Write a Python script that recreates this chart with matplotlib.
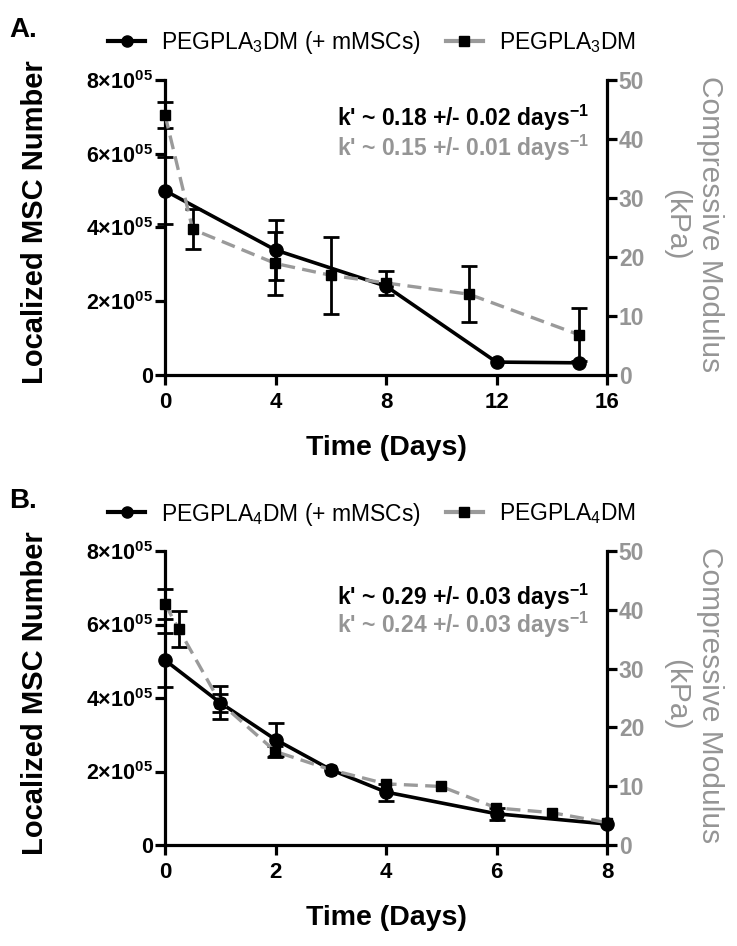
import numpy as np
import matplotlib
matplotlib.use('Agg')
import matplotlib.pyplot as plt
from matplotlib.ticker import FuncFormatter
from matplotlib.lines import Line2D

plt.rcParams['font.family'] = ['Liberation Sans', 'DejaVu Sans']
plt.rcParams['mathtext.fontset'] = 'custom'
plt.rcParams['mathtext.rm'] = 'Liberation Sans'
plt.rcParams['mathtext.it'] = 'Liberation Sans:italic'
plt.rcParams['mathtext.bf'] = 'Liberation Sans:bold'

GRAY = '#9a9a9a'
GRAY_TXT = '#959595'

# panel A - PEGPLA3DM
days_a_cells = [0, 4, 8, 12, 15]
cells_a = [5.0e5, 3.39e5, 2.41e5, 0.35e5, 0.33e5]
cells_a_err = [0.9e5, 0.82e5, np.nan, np.nan, np.nan]
days_a_gel = [0, 1, 4, 6, 8, 11, 15]
modulus_a = [44.1, 24.7, 18.9, 16.9, 15.6, 13.7, 6.8]
modulus_a_err = [2.2, 3.4, 5.3, 6.5, 2.0, 4.8, 4.5]

# panel B - PEGPLA4DM
days_b_cells = [0, 1, 2, 3, 4, 6, 8]
cells_b = [5.03e5, 3.87e5, 2.87e5, 2.05e5, 1.44e5, 0.85e5, 0.57e5]
cells_b_err = [0.73e5, 0.45e5, 0.44e5, np.nan, 0.23e5, 0.16e5, np.nan]
days_b_gel = [0, 0.25, 1, 2, 3, 4, 5, 6, 7, 8]
modulus_b = [41.0, 36.7, 24.2, 15.9, 12.8, 10.4, 9.95, 6.3, 5.5, 3.8]
modulus_b_err = [2.5, 3.1, 1.5, 1.0, np.nan, np.nan, np.nan, np.nan, np.nan, np.nan]

cell_ticks = [0, 2e5, 4e5, 6e5, 8e5]
modulus_ticks = [0, 10, 20, 30, 40, 50]

W, H = 737, 946


def sci_fmt(v, pos):
    if v == 0:
        return '0'
    return '%d×10$^{\\mathbf{05}}$' % round(v / 1e5)


def draw_panel(rect, days_c, cells, cells_err, days_g, modulus, modulus_err,
               xmax, xstep, k_black, k_gray, k_y):
    ax = fig.add_axes(rect)
    ax2 = ax.twinx()

    ax.errorbar(days_c, cells, yerr=cells_err, color='black', lw=2.6,
                marker='o', ms=9.5, elinewidth=2, capsize=5.8, capthick=2,
                clip_on=False, zorder=3)
    ax2.errorbar(days_g, modulus, yerr=modulus_err, color=GRAY, lw=2.4,
                 ls=(0, (4.2, 2.2)), marker='s', ms=7.8, mfc='black', mec='black',
                 ecolor='black', elinewidth=2, capsize=5.8, capthick=2,
                 clip_on=False, zorder=3)

    ax.set_xlim(0, xmax)
    ax.set_xticks(np.arange(0, xmax + 0.1, xstep))
    ax.set_ylim(0, 8e5)
    ax.set_yticks(cell_ticks)
    ax.yaxis.set_major_formatter(FuncFormatter(sci_fmt))
    ax2.set_ylim(0, 50)
    ax2.set_yticks(modulus_ticks)

    for s in ['top', 'right']:
        ax.spines[s].set_visible(False)
    for s in ['top', 'left', 'bottom']:
        ax2.spines[s].set_visible(False)
    for a in [ax, ax2]:
        for s in a.spines.values():
            s.set_linewidth(2.3)
    ax.tick_params(axis='both', width=2.3, length=7, labelsize=15.5)
    ax.tick_params(axis='x', labelsize=16, pad=5)
    ax.tick_params(axis='y', pad=1.5)
    ax2.tick_params(axis='y', width=2.3, length=7, labelsize=16.5, pad=1.5,
                    labelcolor=GRAY_TXT, colors='black')
    for lab in ax2.get_yticklabels():
        lab.set_color(GRAY_TXT)
    for lab in ax.get_xticklabels() + ax.get_yticklabels() + ax2.get_yticklabels():
        lab.set_fontweight('bold')

    ax.text(0.96, k_y[0], "k' ~ %s days$^{\\mathbf{-1}}$" % k_black, transform=ax.transAxes,
            ha='right', va='center', fontsize=16.5, fontweight='bold', color='black')
    ax.text(0.96, k_y[1], "k' ~ %s days$^{\\mathbf{-1}}$" % k_gray, transform=ax.transAxes,
            ha='right', va='center', fontsize=16.5, fontweight='bold', color=GRAY_TXT)
    return ax, ax2


fig = plt.figure(figsize=(W / 100, H / 100), dpi=100)

panels = [
    dict(top=80, bottom=375, letter='A.', n='3',
         data=(days_a_cells, cells_a, cells_a_err, days_a_gel, modulus_a, modulus_a_err),
         xmax=16, xstep=4, kb='0.18 +/- 0.02', kg='0.15 +/- 0.01', ky=(0.873, 0.769)),
    dict(top=551, bottom=845, letter='B.', n='4',
         data=(days_b_cells, cells_b, cells_b_err, days_b_gel, modulus_b, modulus_b_err),
         xmax=8, xstep=2, kb='0.29 +/- 0.03', kg='0.24 +/- 0.03', ky=(0.844, 0.748)),
]

for p in panels:
    left, right = 165, 607
    rect = [left / W, 1 - p['bottom'] / H, (right - left) / W, (p['bottom'] - p['top']) / H]
    ax, ax2 = draw_panel(rect, *p['data'], p['xmax'], p['xstep'], p['kb'], p['kg'], p['ky'])

    mid = (p['top'] + p['bottom']) / 2
    fig.text(9 / W, 1 - (p['top'] - 50) / H, p['letter'], fontsize=20, fontweight='bold',
             ha='left', va='center')
    fig.text(35 / W, 1 - (mid - 5) / H, 'Localized MSC Number', rotation=90,
             fontsize=21, fontweight='bold', ha='center', va='center')
    fig.text(693 / W, 1 - (mid - 3) / H, 'Compressive Modulus\n(kPa)', rotation=270,
             fontsize=21.5, color=GRAY_TXT, ha='center', va='center', linespacing=1.25,
             multialignment='center')
    fig.text(386 / W, 1 - (p['bottom'] + 73) / H, 'Time (Days)', fontsize=20.5,
             fontweight='bold', ha='center', va='center')

    handles = [
        Line2D([], [], color='black', lw=3, marker='o', ms=8),
        Line2D([], [], color=GRAY, lw=3, marker='s', ms=7, mfc='black', mec='black'),
    ]
    labels = ['PEGPLA$_{%s}$DM (+ mMSCs)' % p['n'], 'PEGPLA$_{%s}$DM' % p['n']]
    fig.legend(handles, labels, loc='center', ncol=2, frameon=False, fontsize=16.5,
               bbox_to_anchor=(372 / W, 1 - (p['top'] - 37) / H),
               handlelength=1.6, handletextpad=0.7, columnspacing=1.1)

plt.savefig('out.png', dpi=100)
